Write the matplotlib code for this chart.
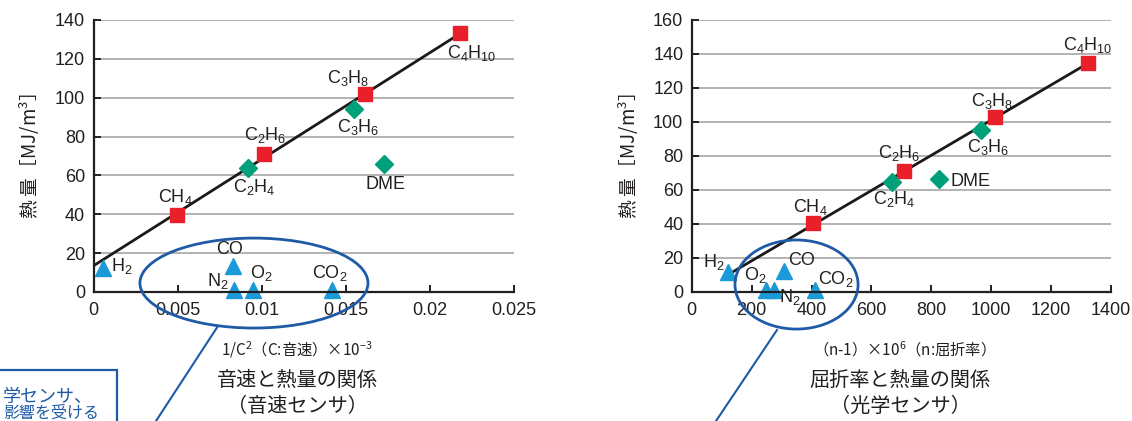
import numpy as np
import matplotlib.pyplot as plt
from matplotlib.patches import Ellipse, Rectangle
from matplotlib.lines import Line2D

plt.rcParams['font.family'] = ['Liberation Sans', 'Noto Sans CJK JP']
plt.rcParams['mathtext.fontset'] = 'custom'
plt.rcParams['mathtext.rm'] = 'Liberation Sans'
plt.rcParams['mathtext.it'] = 'Liberation Sans'
plt.rcParams['mathtext.default'] = 'regular'

# ---- sound speed chart : 1/C^2 x10^-3 vs heat [MJ/m3]
ss_sq_names = ['CH$_4$', 'C$_2$H$_6$', 'C$_3$H$_8$', 'C$_4$H$_{10}$']
ss_sq_x = [0.00499, 0.01012, 0.01612, 0.02179]
ss_sq_y = [39.6, 71, 101.7, 133.5]
ss_di_names = ['C$_2$H$_4$', 'C$_3$H$_6$', 'DME']
ss_di_x = [0.00916, 0.01548, 0.01728]
ss_di_y = [64, 94.2, 65.7]
ss_tri_names = ['H$_2$', 'CO', 'N$_2$', 'O$_2$', 'CO$_2$']
ss_tri_x = [0.00055, 0.00828, 0.00835, 0.0095, 0.01416]
ss_tri_y = [12.2, 13.5, 1, 1, 1]
ss_fit_x = [0, 0.0217]
ss_fit_y = [13.5, 132.5]

# ---- refractive index chart : (n-1) x10^6 vs heat [MJ/m3]
ri_sq_names = ['CH$_4$', 'C$_2$H$_6$', 'C$_3$H$_8$', 'C$_4$H$_{10}$']
ri_sq_x = [406, 710, 1013, 1323]
ri_sq_y = [40.8, 71.4, 102.7, 134.5]
ri_di_names = ['C$_2$H$_4$', 'C$_3$H$_6$', 'DME']
ri_di_x = [668, 967, 827]
ri_di_y = [64.7, 95.3, 66.3]
ri_tri_names = ['H$_2$', 'CO', 'O$_2$', 'N$_2$', 'CO$_2$']
ri_tri_x = [120, 309, 248, 274, 412]
ri_tri_y = [12, 12.5, 1, 1, 1]
ri_fit_x = [139, 1318]
ri_fit_y = [12, 134]

# label offsets in pixels (dx right, dy down)
ss_sq_off = [(-2, -18), (1, -19), (-16, -16), (12, 20)]
ss_di_off = [(7, 19), (4, 18), (1, 20)]
ss_tri_off = [(19, -2), (-3, -16), (-16, -9), (8, -17), (-2, -17)]
ri_sq_off = [(-3, -16), (-5, -18), (-3, -16), (0, -18)]
ri_di_off = [(2, 17), (7, 17), (31, 2)]
ri_tri_off = [(-14, -10), (17, -10), (-11, -15), (16, 7), (21, -11)]

RED = '#e8202a'
GREEN = '#00a07a'
CYAN = '#1b9ad8'
NAVY = '#1f5aa6'
TXT = '#231f20'
W, H = 1132, 421

fig = plt.figure(figsize=(W / 100, H / 100), dpi=100)
ax1 = fig.add_axes([93.5 / W, (H - 292) / H, 420.5 / W, 272 / H])
ax2 = fig.add_axes([691.7 / W, (H - 292) / H, 419.3 / W, 272 / H])


def style(ax, xmax, xticks, xlabels, ymax):
    ax.set_xlim(0, xmax)
    ax.set_ylim(0, ymax)
    ax.set_xticks(xticks)
    ax.set_xticklabels(xlabels)
    ax.set_yticks(np.arange(0, ymax + 1, 20))
    for s in ['top', 'right']:
        ax.spines[s].set_visible(False)
    for s in ['left', 'bottom']:
        ax.spines[s].set_linewidth(1.6)
        ax.spines[s].set_color(TXT)
        ax.spines[s].set_zorder(4)
    ax.yaxis.grid(True, color='#a6a6a6', lw=1.2)
    ax.set_axisbelow(True)
    ax.tick_params(axis='both', direction='in', length=5, width=1.4, color=TXT,
                   labelsize=13, labelcolor=TXT)
    ax.tick_params(axis='x', pad=7)
    ax.tick_params(axis='y', pad=6)
    ax.set_ylabel('熱 量［MJ/m$^3$］', family='Noto Sans CJK JP', fontsize=13.5,
                  color=TXT, labelpad=9)


def draw(ax, sq, di, tri, fit):
    ax.plot(fit[0], fit[1], color='#1a1a1a', lw=2, zorder=2)
    groups = [(sq, 's', RED, 10), (di, 'D', GREEN, 9), (tri, '^', CYAN, 11)]
    for (names, xs, ys, offs), m, c, ms in groups:
        ax.plot(xs, ys, ls='none', marker=m, color=c, ms=ms, zorder=3, clip_on=False)
        for n, x, y, (dx, dy) in zip(names, xs, ys, offs):
            ha = 'center'
            if n == 'DME' and ax is ax2:
                ha, dx = 'left', 11
            ax.annotate(n, (x, y), xytext=(dx * 0.72, -dy * 0.72),
                        textcoords='offset points', ha=ha, va='center',
                        fontsize=13, color=TXT, zorder=5)


style(ax1, 0.025, [0, 0.005, 0.01, 0.015, 0.02, 0.025],
      ['0', '0.005', '0.01', '0.015', '0.02', '0.025'], 140)
style(ax2, 1400, np.arange(0, 1401, 200),
      [str(v) for v in range(0, 1401, 200)], 160)

draw(ax1, (ss_sq_names, ss_sq_x, ss_sq_y, ss_sq_off),
     (ss_di_names, ss_di_x, ss_di_y, ss_di_off),
     (ss_tri_names, ss_tri_x, ss_tri_y, ss_tri_off), (ss_fit_x, ss_fit_y))
draw(ax2, (ri_sq_names, ri_sq_x, ri_sq_y, ri_sq_off),
     (ri_di_names, ri_di_x, ri_di_y, ri_di_off),
     (ri_tri_names, ri_tri_x, ri_tri_y, ri_tri_off), (ri_fit_x, ri_fit_y))

# ellipses around the non-combustible gases
ax1.add_patch(Ellipse((0.00954, 4.6), 0.01356, 46.3, fill=False, ec=NAVY,
                      lw=2, clip_on=False, zorder=6))
ax2.add_patch(Ellipse((350, 4.4), 411, 52.4, fill=False, ec=NAVY,
                      lw=2, clip_on=False, zorder=6))

# callout lines and box (box is cropped by the figure edge)
fig.add_artist(Line2D([218 / W, 156 / W], [1 - 326 / H, 0], color=NAVY, lw=1.5))
fig.add_artist(Line2D([777 / W, 716 / W], [1 - 330 / H, 0], color=NAVY, lw=1.5))
fig.add_artist(Rectangle((-0.01, -0.05), 0.01 + 117 / W, 0.05 + 1 - 370 / H,
                         transform=fig.transFigure, fill=False, ec=NAVY, lw=1.6))
fig.text(3 / W, 1 - 397 / H, '学センサ、', ha='left', va='center',
         family='Noto Sans CJK JP', fontsize=13, color=NAVY)
fig.text(3 / W, 1 - 413 / H, '影響を受ける', ha='left', va='center',
         family='Noto Sans CJK JP', fontsize=11.5, color=NAVY)

# axis captions and titles
fig.text(297 / W, 1 - 350 / H, '1/C$^2$（C:音速）×10$^{-3}$', ha='center', va='center',
         family='Noto Sans CJK JP', fontsize=11, color=TXT)
fig.text(297 / W, 1 - 380 / H, '音速と熱量の関係', ha='center', va='center',
         family='Noto Sans CJK JP', fontsize=14.5, color=TXT)
fig.text(297 / W, 1 - 406 / H, '（音速センサ）', ha='center', va='center',
         family='Noto Sans CJK JP', fontsize=14.5, color=TXT)
fig.text(900 / W, 1 - 350 / H, '（n-1）×10$^6$（n:屈折率）', ha='center', va='center',
         family='Noto Sans CJK JP', fontsize=11, color=TXT)
fig.text(900 / W, 1 - 380 / H, '屈折率と熱量の関係', ha='center', va='center',
         family='Noto Sans CJK JP', fontsize=14.5, color=TXT)
fig.text(900 / W, 1 - 406 / H, '（光学センサ）', ha='center', va='center',
         family='Noto Sans CJK JP', fontsize=14.5, color=TXT)

fig.savefig('out.png', dpi=100)
